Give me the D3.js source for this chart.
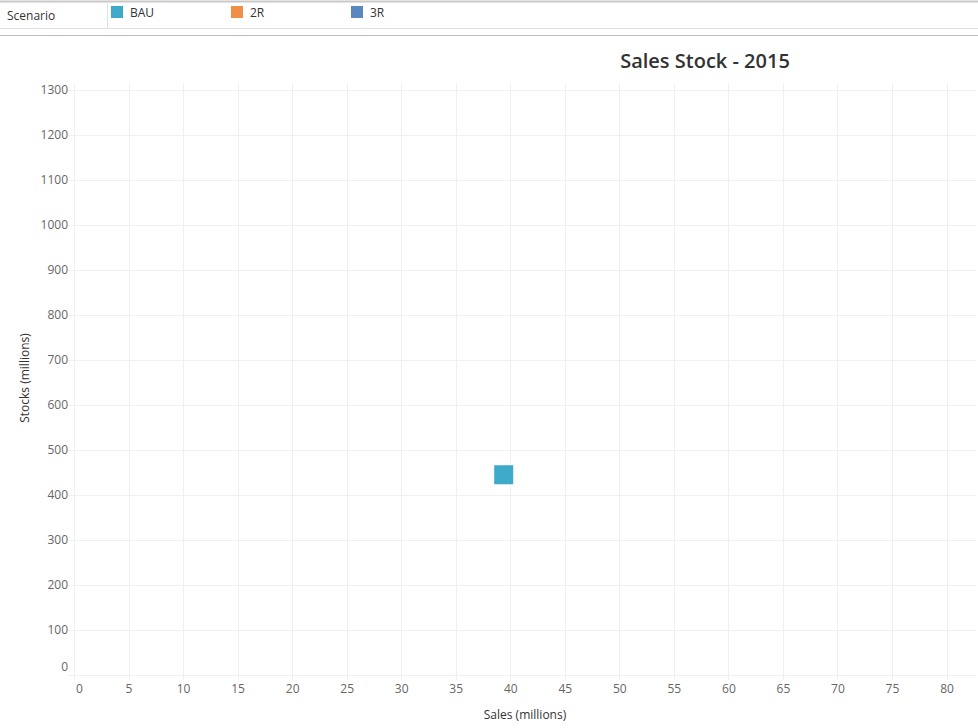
<!DOCTYPE html>
<html><head><meta charset="utf-8">
<script src="https://cdn.jsdelivr.net/npm/d3@7"></script>
<style>
html,body{margin:0;padding:0;background:#fff;}
svg{display:block;font-family:"Open Sans","Noto Sans",sans-serif;}
</style></head>
<body><svg id="chart" width="978" height="728"></svg>
<script>
const scenarios = ["BAU", "2R", "3R"];
const scenarioColors = ["#3ea9c8", "#ef8f47", "#5b87bf"];
const pointScenario = ["BAU"];
const pointSales = [39.4];
const pointStocks = [445];
const xTicks = [0,5,10,15,20,25,30,35,40,45,50,55,60,65,70,75,80];
const yTicks = [0,100,200,300,400,500,600,700,800,900,1000,1100,1200,1300];

const svg = d3.select("#chart");
const W = 978, H = 728;

// Legend strip
svg.append("line").attr("x1",0).attr("x2",W).attr("y1",1.5).attr("y2",1.5).attr("stroke","#c8c8c8").attr("stroke-width",2);
svg.append("line").attr("x1",0).attr("x2",W).attr("y1",28.5).attr("y2",28.5).attr("stroke","#e2e2e2");
svg.append("line").attr("x1",107.5).attr("x2",107.5).attr("y1",3).attr("y2",28).attr("stroke","#e2e2e2");
svg.append("line").attr("x1",0).attr("x2",W).attr("y1",35.5).attr("y2",35.5).attr("stroke","#bdbdbd");
svg.append("text").attr("x",7).attr("y",19.5).attr("font-size",12).attr("fill","#333").text("Scenario");
const legX = d3.scalePoint().domain(scenarios).range([111, 351]);
const color = d3.scaleOrdinal().domain(scenarios).range(scenarioColors);
const lg = svg.append("g").selectAll("g").data(scenarios).join("g")
  .attr("transform", d => `translate(${legX(d)},6)`);
lg.append("rect").attr("width",12).attr("height",12).attr("fill", d => color(d));
lg.append("text").attr("x",19).attr("y",11).attr("font-size",12).attr("fill","#333").text(d => d);

// Title
svg.append("text").attr("x",705).attr("y",68).attr("text-anchor","middle")
  .attr("font-size",20).attr("font-weight",600).attr("fill","#333").text("Sales Stock - 2015");

// Scales
const x = d3.scaleLinear().domain([0, 80]).range([74, 946.5]);
const y = d3.scaleLinear().domain([0, 1300]).range([675, 90]);
const plotRight = 976, plotTop = 83, plotBottom = 680, plotLeft = 68;

// Grid
const g = svg.append("g");
g.selectAll("line.vx").data(xTicks).join("line")
  .attr("x1", d => Math.round(x(d))+0.5).attr("x2", d => Math.round(x(d))+0.5)
  .attr("y1", plotTop).attr("y2", plotBottom).attr("stroke","#f0f0f0");
g.selectAll("line.hy").data(yTicks).join("line")
  .attr("x1", plotLeft).attr("x2", plotRight)
  .attr("y1", d => Math.round(y(d))+0.5).attr("y2", d => Math.round(y(d))+0.5).attr("stroke","#f0f0f0");

// Axes (labels only)
const xAxis = d3.axisBottom(x).tickValues(xTicks).tickFormat(d3.format("d")).tickSize(0).tickPadding(0);
const xa = svg.append("g").attr("transform","translate(0,684)").call(xAxis);
xa.select(".domain").remove();
xa.selectAll("text").attr("font-size",12).attr("fill","#666").attr("dy","0.71em")
  .attr("font-family","'Open Sans','Noto Sans',sans-serif")
  .attr("dx", d => d === 0 ? 5 : 0);

const yAxis = d3.axisLeft(y).tickValues(yTicks).tickFormat(d3.format("d")).tickSize(0).tickPadding(0);
const ya = svg.append("g").attr("transform","translate(68,0)").call(yAxis);
ya.select(".domain").remove();
ya.selectAll("text").attr("font-size",12).attr("fill","#666")
  .attr("font-family","'Open Sans','Noto Sans',sans-serif")
  .attr("dy", d => d === 0 ? "-0.35em" : "0.32em");

// Axis titles
svg.append("text").attr("x",525).attr("y",719).attr("text-anchor","middle")
  .attr("font-size",12).attr("fill","#333").text("Sales (millions)");
svg.append("text").attr("transform","translate(29,378) rotate(-90)").attr("text-anchor","middle")
  .attr("font-size",12).attr("fill","#333").text("Stocks (millions)");

// Points
const pts = pointSales.map((v,i)=>({s:pointScenario[i], x:v, y:pointStocks[i]}));
const sz = 19;
svg.append("g").selectAll("rect").data(pts).join("rect")
  .attr("x", d => x(d.x)-sz/2).attr("y", d => y(d.y)-sz/2)
  .attr("width", sz).attr("height", sz).attr("fill", d => color(d.s));
</script></body></html>
